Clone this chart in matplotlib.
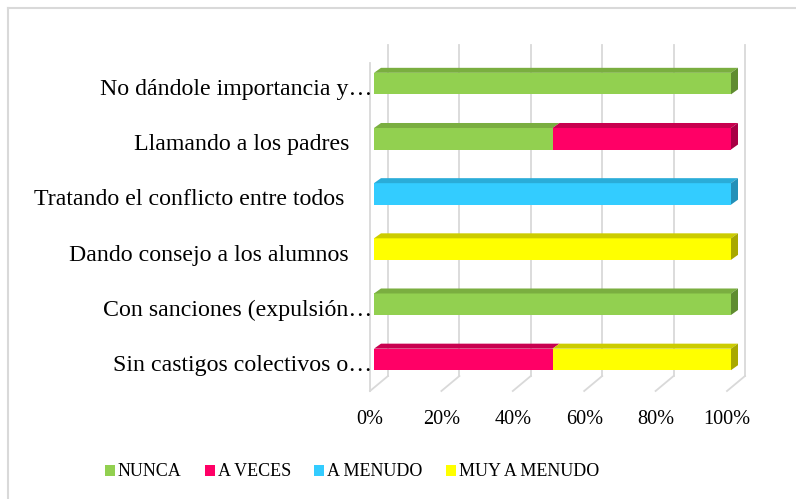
import matplotlib
matplotlib.use("Agg")
import matplotlib.pyplot as plt
from matplotlib.patches import Polygon, Patch
from matplotlib.lines import Line2D
from matplotlib.transforms import ScaledTranslation, IdentityTransform
import numpy as np

# ---------------- data ----------------
categories = [
    "No dándole importancia y…",
    "Llamando a los padres",
    "Tratando el conflicto entre todos",
    "Dando consejo a los alumnos",
    "Con sanciones (expulsión…",
    "Sin castigos colectivos o…",
]
series_names = ["NUNCA", "A VECES", "A MENUDO", "MUY A MENUDO"]
nunca = [100, 50, 0, 0, 100, 0]
a_veces = [0, 50, 0, 0, 0, 50]
a_menudo = [0, 0, 100, 0, 0, 0]
muy_a_menudo = [0, 0, 0, 100, 0, 50]
x_ticks = [0, 20, 40, 60, 80, 100]
x_tick_labels = ["0%", "20%", "40%", "60%", "80%", "100%"]

# ---------------- style ----------------
front_cols = ["#92D050", "#FF0066", "#33CCFF", "#FFFF00"]
top_cols = ["#7AAE40", "#C8004F", "#2AACD8", "#CCCC00"]
side_cols = ["#5F8C30", "#A80045", "#2390B8", "#A8A800"]
grid_col = "#D9D9D9"

plt.rcParams["font.family"] = ["Liberation Serif", "DejaVu Serif"]
FS_CAT = 17.2
FS_TICK = 14.6
FS_LEG = 13.0

W, H = 796, 499
DPI = 100
fig = plt.figure(figsize=(W / DPI, H / DPI), dpi=DPI)

# axes = plane of bar front faces (pixels, top-down)
x0, x1, ytop, ybot = 374, 731, 56, 387
ax = fig.add_axes([x0 / W, 1 - ybot / H, (x1 - x0) / W, (ybot - ytop) / H])
ax.set_xlim(0, 100)
ax.set_ylim(len(categories) - 0.5, -0.5)
ax.axis("off")

def px(dx, dy):
    # offset in pixels (dy positive = up)
    return ScaledTranslation(dx / DPI, dy / DPI, fig.dpi_scale_trans)

back = ax.transData + px(14, 11)
front = ax.transData + px(-4, -4)

ylo, yhi = -0.5, len(categories) - 0.5

# back wall gridlines
for t in x_ticks:
    ax.plot([t, t], [ylo, yhi], color=grid_col, lw=1.3, transform=back,
            clip_on=False, zorder=0)
# floor lines back->front
for t in x_ticks:
    p1 = back.transform((t, yhi))
    p2 = front.transform((t, yhi))
    fig.add_artist(Line2D([p1[0], p2[0]], [p1[1], p2[1]], color=grid_col,
                          lw=1.3, transform=IdentityTransform(), zorder=0))
# left wall front edge
ax.plot([0, 0], [ylo + 0.05, yhi], color=grid_col, lw=1.3, transform=front,
        clip_on=False, zorder=0)

# bars
series = [nunca, a_veces, a_menudo, muy_a_menudo]
y = np.arange(len(categories))
bh = 0.39
dxb, dyb = 7, 5
left = np.zeros(len(categories))
faces = []
for si, vals in enumerate(series):
    vals = np.array(vals, dtype=float)
    for i in range(len(categories)):
        if vals[i] <= 0:
            continue
        l, r = left[i], left[i] + vals[i]
        yt, yb = y[i] - bh / 2, y[i] + bh / 2
        a = ax.transData.transform((l, yt))
        b = ax.transData.transform((r, yt))
        c = ax.transData.transform((r, yb))
        top = [a, b, b + [dxb, dyb], a + [dxb, dyb]]
        side = [b, c, c + [dxb, dyb], b + [dxb, dyb]]
        faces.append((top, top_cols[si]))
        if r >= 99.9:
            faces.append((side, side_cols[si]))
    ax.barh(y, vals, left=left, height=bh, color=front_cols[si],
            edgecolor="none", zorder=3)
    left += vals
for verts, col in faces:
    fig.add_artist(Polygon(verts, closed=True, facecolor=col, edgecolor="none",
                           transform=IdentityTransform(), zorder=2))

# category labels
for i, lab in enumerate(categories):
    end_off = -2 if lab.endswith("…") else -25
    if lab.startswith("Tratando"):
        end_off = -30
    tr = ax.transData + px(end_off, -6)
    ax.text(0, y[i], lab, transform=tr, ha="right", va="center",
            fontsize=FS_CAT, color="black")

# x tick labels (front plane)
tick_tr = front + px(0, -28)
for t, lab in zip(x_ticks, x_tick_labels):
    ax.text(t, yhi, lab, transform=tick_tr, ha="center",
            va="center", fontsize=FS_TICK, color="black")

# legend
handles = [Patch(facecolor=c, edgecolor="none") for c in front_cols]
fig.legend(handles, series_names, loc="center", ncol=4,
           bbox_to_anchor=(352 / W, 1 - 472 / H), frameon=False,
           fontsize=FS_LEG, handlelength=0.55, handleheight=0.55,
           handletextpad=0.15, columnspacing=1.3)

# chart border (top and left visible)
fig.add_artist(Line2D([8 / W, 1], [1 - 8 / H, 1 - 8 / H], color=grid_col,
                      lw=1.5, transform=fig.transFigure))
fig.add_artist(Line2D([8 / W, 8 / W], [1 - 8 / H, 0], color=grid_col,
                      lw=1.5, transform=fig.transFigure))

fig.savefig("out.png", dpi=DPI)
